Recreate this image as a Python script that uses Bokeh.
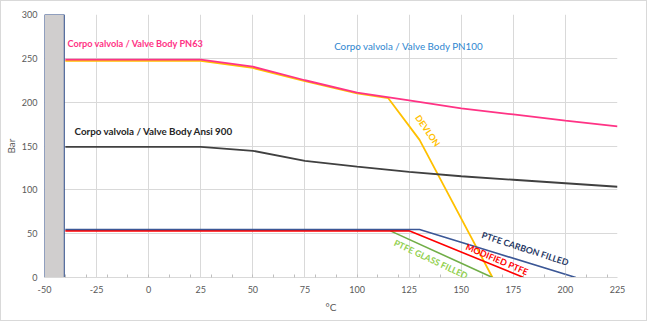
from bokeh.plotting import figure
from bokeh.models import FixedTicker, Label, Range1d
from bokeh.embed import file_html
from bokeh.resources import INLINE
import math

# ---- data ----
pn63_x = [-40, 25, 50, 75, 100, 125, 150, 175, 200, 225]
pn63_y = [248.5, 248.5, 240.5, 225, 211, 202, 193, 186, 179, 172.5]

devlon_x = [-40, 25, 50, 75, 100, 115, 130, 165]
devlon_y = [247, 247, 239, 224, 210, 204.5, 157, 0]

ansi900_x = [-40, 25, 50, 75, 100, 125, 150, 175, 200, 225]
ansi900_y = [149, 149, 144.5, 133, 126.5, 120.5, 115.5, 111.5, 107.5, 103.5]

carbon_x = [-40, 130, 205]
carbon_y = [54.7, 54.7, 0]

modified_x = [-40, 125, 180]
modified_y = [53.2, 53.2, 0]

glass_x = [116, 165]
glass_y = [53.2, 0]

x_ticks = list(range(-50, 226, 25))
x_minor = list(range(-40, 225, 10))
y_ticks = list(range(0, 301, 50))

FONT = "Lato"

p = figure(frame_width=573, frame_height=263, output_backend="svg", toolbar_location=None,
           x_range=Range1d(-50, 225), y_range=Range1d(0, 300),
           min_border_left=43, min_border_right=29, min_border_top=13, min_border_bottom=43,
           styles={"border": "1px solid #d9d9d9"})
p.outline_line_color = None
p.background_fill_color = "white"
p.border_fill_color = "white"

p.xaxis.ticker = FixedTicker(ticks=x_ticks, minor_ticks=x_minor)
p.yaxis.ticker = FixedTicker(ticks=y_ticks)
p.xaxis.major_label_overrides = {t: str(t) for t in x_ticks}
p.xgrid.grid_line_color = "#d9d9d9"
p.ygrid.grid_line_color = "#d9d9d9"

for ax in (p.xaxis[0], p.yaxis[0]):
    ax.major_tick_out = 0
    ax.major_tick_in = 0
    ax.major_label_text_color = "#595959"
    ax.major_label_text_font = FONT
    ax.major_label_text_font_size = "9px"
    ax.axis_label_text_color = "#595959"
    ax.axis_label_text_font = FONT
    ax.axis_label_text_font_size = "10px"
    ax.axis_label_text_font_style = "normal"

p.xaxis.axis_line_color = "#d9d9d9"
p.xaxis.minor_tick_in = 3
p.xaxis.minor_tick_out = 0
p.xaxis.minor_tick_line_color = "#bfbfbf"
p.xaxis.major_label_standoff = 8
p.xaxis.axis_label = "°C"
p.xaxis.axis_label_standoff = 5
p.yaxis.axis_line_color = None
p.yaxis.minor_tick_line_color = None
p.yaxis.major_label_standoff = 7
p.yaxis.axis_label = "Bar"
p.yaxis.axis_label_standoff = 2

# grey box at left
p.quad(left=[-50], right=[-40.5], bottom=[0], top=[300], fill_color="#d0cece",
       line_color="#2f4d8a", line_width=1)

p.line(devlon_x, devlon_y, line_color="#ffc000", line_width=1.8)
p.line(pn63_x, pn63_y, line_color="#ff3385", line_width=1.8)
p.line(ansi900_x, ansi900_y, line_color="#404040", line_width=1.8)
p.line(glass_x, glass_y, line_color="#70ad47", line_width=1.6)
p.line(modified_x, modified_y, line_color="#ff0000", line_width=1.6)
p.line(carbon_x, carbon_y, line_color="#3b5796", line_width=1.6)

def lab(x, y, text, color, angle=0.0, bold=True, size="10px", align="left"):
    p.add_layout(Label(x=x, y=y, text=text, text_color=color, text_font=FONT,
                       text_font_size=size, text_font_style="bold" if bold else "normal",
                       angle=math.radians(angle), text_align=align, text_baseline="middle"))

lab(-39, 267, "Corpo valvola / Valve Body PN63", "#ff3385", size="9.2px")
lab(89, 264.5, "Corpo valvola / Valve Body PN100", "#2e86d0", bold=False, size="9.8px")
lab(-35.6, 167.6, "Corpo valvola / Valve Body Ansi 900", "#262626", size="9.8px")
lab(134, 167.6, "DEVLON", "#ffc000", angle=-55, align="center", size="8.8px")
lab(180.7, 33, "PTFE CARBON FILLED", "#1f3864", angle=-18, align="center", size="8.8px")
lab(167.2, 21, "MODIFIED PTFE", "#ff0000", angle=-23, align="center", size="8.8px")
lab(135.5, 21, "PTFE GLASS FILLED", "#92d050", angle=-25, align="center", size="8.8px")

open("out.html", "w").write(file_html(p, INLINE))
